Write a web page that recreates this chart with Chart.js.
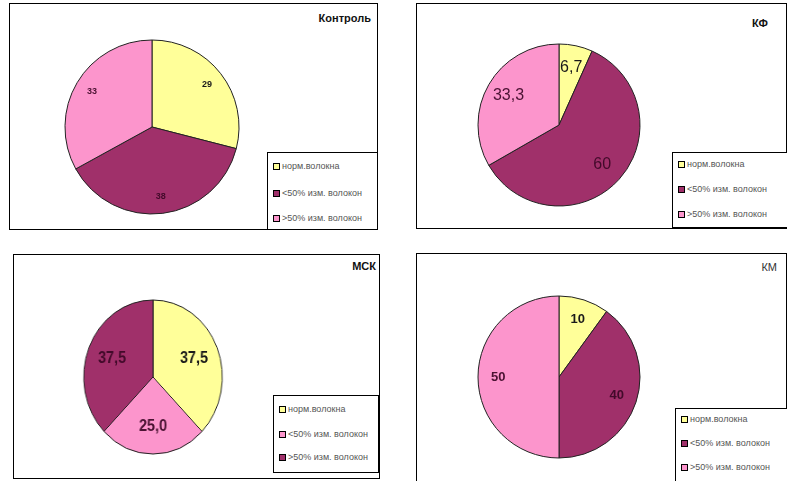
<!DOCTYPE html>
<html>
<head>
<meta charset="utf-8">
<script src="https://cdn.jsdelivr.net/npm/chart.js@4.4.1/dist/chart.umd.min.js"></script>
<style>
  body { margin: 0; background: #fff; width: 787px; height: 481px; overflow: hidden; position: relative; font-family: "Liberation Sans", Arial, sans-serif; }
  .panel { position: absolute; border: 1px solid #000; background: #fff; box-sizing: border-box; }
  .pie { position: absolute; }
  .title { position: absolute; font-size: 11px; font-weight: bold; color: #111; white-space: nowrap; transform: translate(-100%, -50%); }
  .legend { position: absolute; border: 1px solid #000; background: #fff; box-sizing: border-box; }
  .legend-item { position: absolute; left: 5px; font-size: 9px; color: #555; white-space: nowrap; transform: translateY(-50%); display: flex; align-items: center; }
  .legend-item i { display: inline-block; width: 5px; height: 5px; border: 1px solid #000; margin-right: 2px; }
</style>
</head>
<body>
<script>
// подписи легенды (одинаковые для всех диаграмм)
const legendLabels = ["норм.волокна", "<50% изм. волокон", ">50% изм. волокон"];

// значения, %
const controlValues = [29, 38, 33];
const kfValues = [6.7, 60, 33.3];
const mskValues = [37.5, 25.0, 37.5];
const kmValues = [10, 40, 50];

const yellow = "#ffff99";
const plum = "#a0306a";
const pink = "#fc95cc";

const panels = [
  {
    title: "Контроль", values: controlValues, colors: [yellow, plum, pink], decimals: 0,
    box: [9, 3, 369, 227], pie: [152, 127, 87], titlePos: [371, 18],
    legend: [267, 152, 111, 78], items: [13, 40, 65],
    font: "bold 9px 'Liberation Sans'", dist: 0.8,
  },
  {
    title: "КФ", values: kfValues, colors: [yellow, plum, pink], decimals: null,
    box: [416, 3, 371, 226], pie: [559, 125, 81], titlePos: [768, 23],
    legend: [672, 152, 116, 76], items: [11, 36, 61],
    font: "16px 'Liberation Sans'", dist: 0.72,
  },
  {
    title: "МСК", values: mskValues, colors: [yellow, pink, plum], decimals: 1,
    box: [13, 254, 367, 225], pie: [153, 377, 77], squeeze: 0.9, titlePos: [376, 266],
    legend: [273, 395, 106, 78], items: [13, 38, 61],
    font: "bold 16px 'Liberation Sans'", dist: 0.64,
  },
  {
    title: "КМ", values: kmValues, colors: [yellow, plum, pink], decimals: null,
    box: [416, 253, 371, 240], pie: [559, 377, 81], titlePos: [777, 267], titleWeight: "normal",
    legend: [675, 408, 113, 80], items: [10, 34, 58],
    font: "bold 13px 'Liberation Sans'", dist: 0.75,
  },
];

// подписи значений внутри секторов
const sliceLabels = {
  id: "sliceLabels",
  afterDatasetsDraw(chart, args, opts) {
    const ctx = chart.ctx;
    const meta = chart.getDatasetMeta(0);
    const values = chart.data.datasets[0].data;
    const colors = chart.data.datasets[0].backgroundColor;
    ctx.save();
    ctx.font = opts.font;
    ctx.textAlign = "center";
    ctx.textBaseline = "middle";
    meta.data.forEach((arc, i) => {
      const mid = (arc.startAngle + arc.endAngle) / 2;
      const r = arc.outerRadius * opts.dist;
      let text = opts.decimals === null
        ? String(values[i]).replace(".", ",")
        : values[i].toFixed(opts.decimals).replace(".", ",");
      ctx.fillStyle = colors[i] === plum ? "#420a2a" : colors[i] === pink ? "#4a1232" : "#1a1a1a";
      ctx.fillText(text, arc.x + Math.cos(mid) * r, arc.y + Math.sin(mid) * r);
    });
    ctx.restore();
  },
};

panels.forEach((p) => {
  const panel = document.createElement("div");
  panel.className = "panel";
  panel.style.left = p.box[0] + "px";
  panel.style.top = p.box[1] + "px";
  panel.style.width = p.box[2] + "px";
  panel.style.height = p.box[3] + "px";
  document.body.appendChild(panel);

  const title = document.createElement("div");
  title.className = "title";
  title.textContent = p.title;
  title.style.left = p.titlePos[0] + "px";
  title.style.top = p.titlePos[1] + "px";
  if (p.titleWeight) { title.style.fontWeight = p.titleWeight; title.style.color = "#333"; }
  document.body.appendChild(title);

  // холст только под круг
  const [cx, cy, r] = p.pie;
  const size = 2 * (r + 3);
  const canvas = document.createElement("canvas");
  canvas.className = "pie";
  canvas.width = size;
  canvas.height = size;
  canvas.style.left = cx - size / 2 + "px";
  canvas.style.top = cy - size / 2 + "px";
  if (p.squeeze) canvas.style.transform = "scaleX(" + p.squeeze + ")";
  document.body.appendChild(canvas);

  new Chart(canvas, {
    type: "pie",
    data: {
      labels: legendLabels,
      datasets: [
        {
          data: p.values,
          backgroundColor: p.colors,
          borderColor: "#222",
          borderWidth: 1,
          radius: r,
        },
      ],
    },
    options: {
      responsive: false,
      animation: false,
      layout: { padding: 0 },
      plugins: {
        legend: { display: false },
        tooltip: { enabled: false },
        sliceLabels: { font: p.font, dist: p.dist, decimals: p.decimals },
      },
    },
    plugins: [sliceLabels],
  });

  // легенда
  const legend = document.createElement("div");
  legend.className = "legend";
  legend.style.left = p.legend[0] + "px";
  legend.style.top = p.legend[1] + "px";
  legend.style.width = p.legend[2] + "px";
  legend.style.height = p.legend[3] + "px";
  legendLabels.forEach((label, i) => {
    const item = document.createElement("div");
    item.className = "legend-item";
    item.style.top = p.items[i] + "px";
    const mark = document.createElement("i");
    mark.style.background = p.colors[i];
    item.appendChild(mark);
    item.appendChild(document.createTextNode(label));
    legend.appendChild(item);
  });
  document.body.appendChild(legend);
});
</script>
</body>
</html>
